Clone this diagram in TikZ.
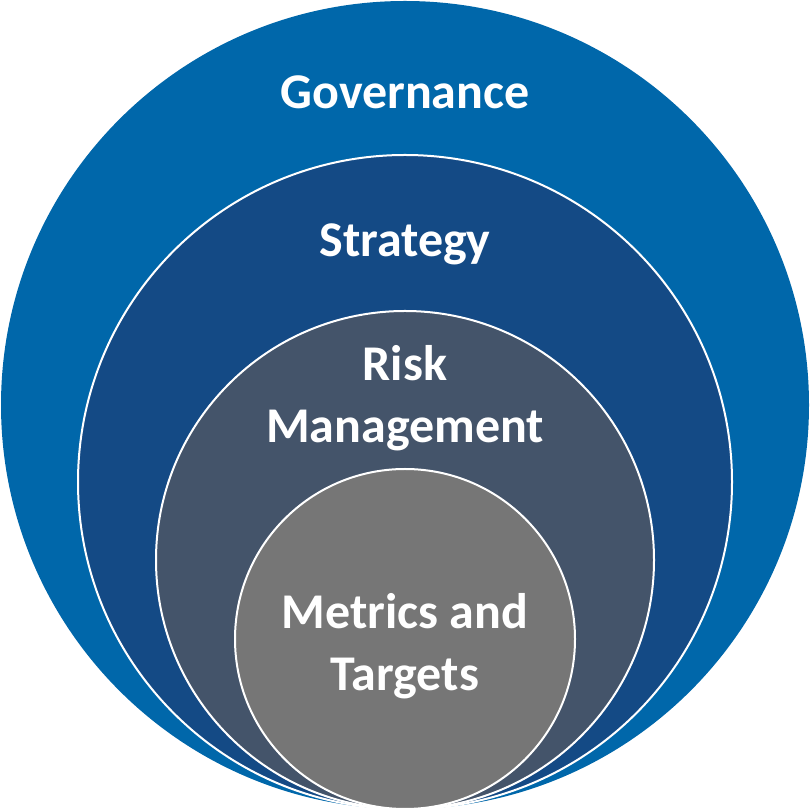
\documentclass[tikz,border=0pt]{standalone}
\usepackage{fontspec}
\setmainfont{Carlito}
\definecolor{govc}{RGB}{0,103,170}
\definecolor{strc}{RGB}{20,74,133}
\definecolor{riskc}{RGB}{68,84,106}
\definecolor{metc}{RGB}{118,118,118}
\begin{document}
\begin{tikzpicture}[x=1pt,y=1pt,
  ring/.style={draw=white,line width=2pt},
  lbl/.style={text=white,font=\fontsize{50}{62}\selectfont\bfseries,align=center,inner sep=0pt}]
\useasboundingbox (0,0) rectangle (810,811);
\fill[govc] (405,406) circle[radius=404];
\filldraw[ring,fill=strc] (405,329) circle[radius=327];
\filldraw[ring,fill=riskc] (405,251) circle[radius=249];
\filldraw[ring,fill=metc] (405,172) circle[radius=170];
\node[lbl] (gov) at (405,719) {Governance};
\node[lbl] (str) at (405,567) {Strategy};
\node[lbl] (risk) at (405,413) {Risk\\Management};
\node[lbl] (met) at (405,165) {Metrics and\\Targets};
\end{tikzpicture}
\end{document}
